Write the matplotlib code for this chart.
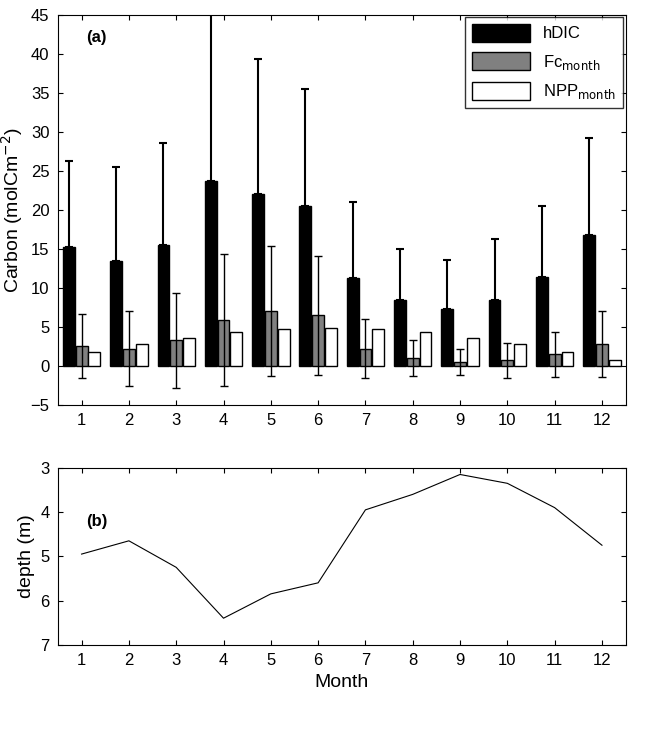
import numpy as np
import matplotlib
matplotlib.use('Agg')
import matplotlib.pyplot as plt

plt.rcParams['font.family'] = ['Liberation Sans', 'DejaVu Sans']

months = np.arange(1, 13)
hdic = [15.2, 13.5, 15.5, 23.7, 22.0, 20.5, 11.3, 8.5, 7.3, 8.4, 11.4, 16.8]
hdic_err = [11.0, 12.0, 13.0, 22.0, 17.3, 15.0, 9.7, 6.5, 6.3, 7.9, 9.1, 12.4]
fc = [2.5, 2.2, 3.3, 5.9, 7.0, 6.5, 2.2, 1.0, 0.5, 0.7, 1.5, 2.8]
fc_err = [4.1, 4.8, 6.1, 8.5, 8.3, 7.6, 3.8, 2.3, 1.7, 2.3, 2.9, 4.2]
npp = [1.8, 2.8, 3.6, 4.3, 4.7, 4.9, 4.7, 4.3, 3.6, 2.8, 1.8, 0.7]
depth = [4.95, 4.65, 5.25, 6.4, 5.85, 5.6, 3.95, 3.6, 3.15, 3.35, 3.9, 4.75]

fig = plt.figure(figsize=(6.51, 7.31), dpi=100)
ax1 = fig.add_axes([0.089, 0.446, 0.872, 0.534])
ax2 = fig.add_axes([0.089, 0.118, 0.872, 0.242])

w = 0.25
ax1.bar(months - 0.27, hdic, w, color='black', edgecolor='black', label='hDIC')
ax1.errorbar(months - 0.27, hdic, yerr=[np.zeros(12), hdic_err], fmt='none',
             ecolor='black', elinewidth=1.5, capsize=3, capthick=1.5)
ax1.bar(months, fc, w, color='#808080', edgecolor='black', label='Fc$_{\\mathrm{month}}$')
ax1.errorbar(months, fc, yerr=fc_err, fmt='none', ecolor='black',
             elinewidth=1, capsize=3)
ax1.bar(months + 0.27, npp, w, color='white', edgecolor='black', label='NPP$_{\\mathrm{month}}$')
ax1.set_xlim(0.5, 12.5)
ax1.set_ylim(-5, 45)
ax1.set_xticks(months)
ax1.set_yticks(range(-5, 50, 5))
ax1.set_ylabel('Carbon (molCm$^{-2}$)', fontsize=14)
ax1.tick_params(labelsize=12, direction='in', top=True, right=True, pad=6)
ax1.text(0.05, 0.93, '(a)', transform=ax1.transAxes, fontsize=12, fontweight='bold')
ax1.legend(loc='upper right', fontsize=12, fancybox=False, edgecolor='black',
           handlelength=3.5, handleheight=1.3, labelspacing=0.6, borderaxespad=0.15)

ax2.plot(months, depth, color='black', lw=0.8)
ax2.set_xlim(0.5, 12.5)
ax2.set_ylim(7, 3)
ax2.set_xticks(months)
ax2.set_yticks([3, 4, 5, 6, 7])
ax2.set_ylabel('depth (m)', fontsize=14)
ax2.set_xlabel('Month', fontsize=14)
ax2.tick_params(labelsize=12, direction='in', top=True, right=True, pad=6)
ax2.text(0.05, 0.67, '(b)', transform=ax2.transAxes, fontsize=12, fontweight='bold')

fig.savefig('out.png', dpi=100)
